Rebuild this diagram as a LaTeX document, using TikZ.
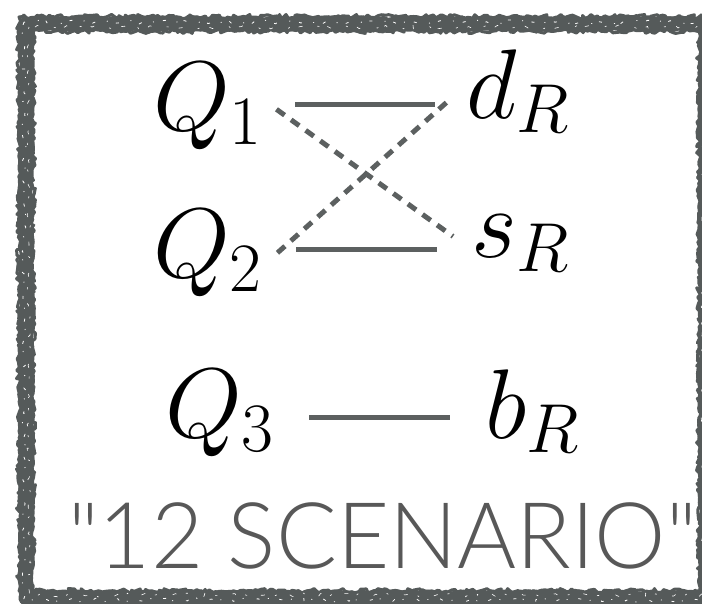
\documentclass[tikz,border=0pt]{standalone}
\usepackage{fix-cm}
\usepackage{fontspec}
\newfontfamily\scenfont{Lato Light}
\usetikzlibrary{calc,decorations.pathmorphing}
\definecolor{frameg}{RGB}{85,90,90}
\definecolor{lineg}{RGB}{92,96,96}
\definecolor{textg}{RGB}{88,88,88}
\tikzset{
	lbl/.style={anchor=base west, inner sep=0pt, font=\fontsize{99}{110}\selectfont},
	solidln/.style={lineg, line width=5pt},
	dashln/.style={lineg, line width=5pt, dash pattern=on 10pt off 8pt},
	rough/.style={decorate, decoration={random steps, segment length=3pt, amplitude=#1}},
}
\begin{document}
\begin{tikzpicture}[x=1pt, y=-1pt, line join=round]
	\useasboundingbox (0,0) rectangle (702,603);
	\pgfmathsetseed{7}
	% frame
	\draw[frameg, line width=15pt, rough=1.5pt] (26,24) rectangle (706,598);
	\draw[frameg, line width=3pt, rough=2.5pt] (19,17) rectangle (713,591);
	\draw[frameg, line width=3pt, rough=2.5pt] (33,31) rectangle (699,605);
	\draw[white, line width=.8pt, rough=2pt, dash pattern=on 3pt off 9pt on 1pt off 14pt] (24,22) rectangle (708,600);
	\draw[white, line width=.6pt, rough=2pt, dash pattern=on 2pt off 17pt on 4pt off 11pt] (29,27) rectangle (703,595);
	% labels
	\node[lbl] (q1) at (153,130) {$Q_1$};
	\node[lbl] (q2) at (153,277) {$Q_2$};
	\node[lbl] (q3) at (165,437) {$Q_3$};
	\node[lbl] (dR) at (466,118) {$d_R$};
	\node[lbl] (sR) at (471,257) {$s_R$};
	\node[lbl] (bR) at (485,438) {$b_R$};
	% couplings
	\draw[solidln] ($(q1.east)+(33,-1.5)$) -- ($(q1.east -| dR.west)+(-31,-1.5)$);
	\draw[solidln] ($(q2.east)+(34,-3.5)$) -- ($(q2.east -| sR.west)+(-34,-3.5)$);
	\draw[solidln] ($(q3.east)+(35,4.5)$) -- ($(q3.east -| bR.west)+(-35,4.5)$);
	\draw[dashln] ($(q1.east)+(14,3.5)$) -- ($(sR.west)+(-18,-6.7)$);
	\draw[dashln] ($(q2.east)+(15,0)$) -- ($(dR.west)+(-19,11)$);
	% caption
	\node[anchor=base west, inner sep=0pt, textg, font=\scenfont\fontsize{92}{100}\selectfont] (scen) at (68,568) {\scalebox{.98}[1]{"12 SCENARIO"}};
\end{tikzpicture}
\end{document}
